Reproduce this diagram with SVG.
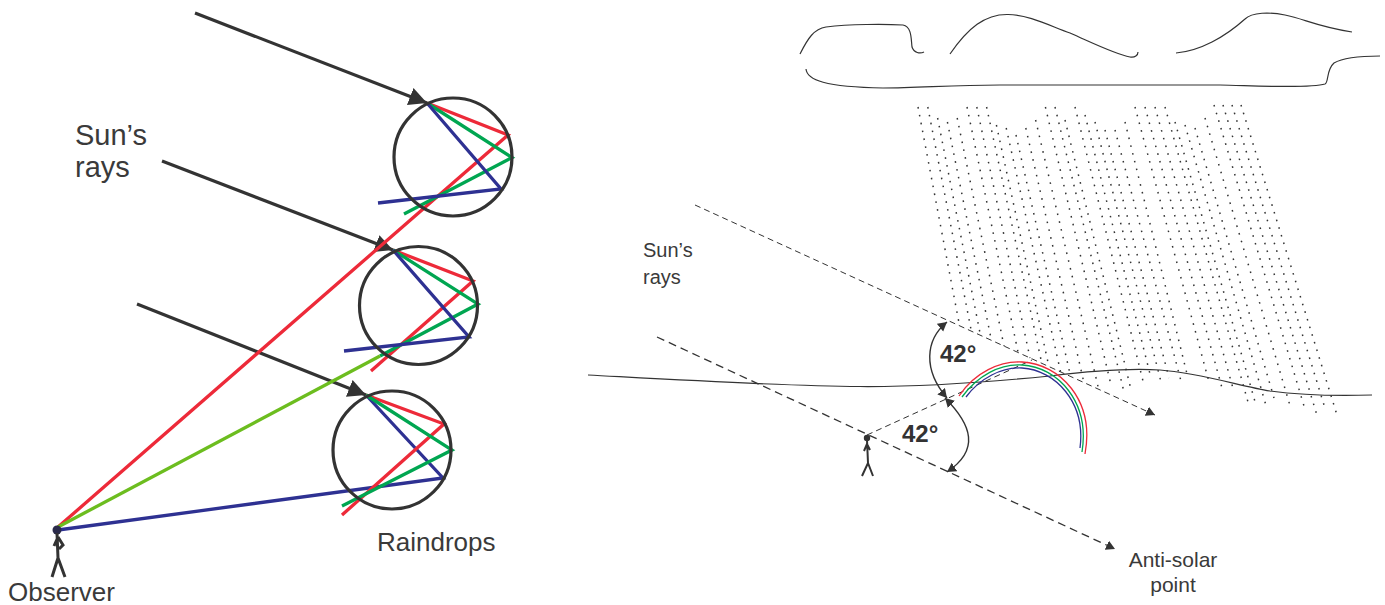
<svg xmlns="http://www.w3.org/2000/svg" width="1385" height="605" viewBox="0 0 1385 605">
<style>
text{font-family:"Liberation Sans",Arial,sans-serif;fill:#3a3a3a}
.l{font-size:29px}
.r{font-size:20px}
.deg{font-size:24px;font-weight:bold;fill:#333}
.drop{fill:none;stroke:#333;stroke-width:3.2}
.ray{stroke:#333;stroke-width:3.2;fill:none;marker-end:url(#head)}
.c{fill:none;stroke-width:3.3;stroke-linecap:butt}
.red{stroke:#ed2a39}.grn{stroke:#00a651}.blu{stroke:#2e3192}.lime{stroke:#6cbd1f}
.fig{fill:none;stroke:#333;stroke-width:3}
.thin{fill:none;stroke:#333;stroke-width:1.2}
.dash{fill:none;stroke:#333;stroke-width:1;stroke-dasharray:6 4}
.bow{fill:none;stroke-width:1.3}
.arc{fill:none;stroke:#333;stroke-width:1.4}
</style>
<defs>
<marker id="head" markerUnits="userSpaceOnUse" markerWidth="22" markerHeight="22" refX="18" refY="10" orient="auto"><path d="M0,1 L18,10 L0,19 Z" fill="#333"/></marker>
<marker id="small" markerUnits="userSpaceOnUse" markerWidth="12" markerHeight="12" refX="9" refY="5" orient="auto-start-reverse"><path d="M0,0 L9,5 L0,10 Z" fill="#333"/></marker>
</defs>

<g id="rain">
<path fill="none" stroke="#333" stroke-width="1.5" stroke-dasharray="1.6 6.4" d="M918,107L959.6,326M927.8,107L971.3,331M937.6,118L980.4,335M947.4,122L991.3,340M957.2,118L1004,346M967,107L1018,352M976.8,107L1030,358M986.6,107L1041.7,363M996.4,125L1049,367M1006.2,128L1060.6,372M1016,135L1070.5,376M1025.8,128L1084,383M1035.6,120L1098.6,389M1045.4,107L1111,385M1055,107L1124,392M1065,120L1131.6,392M1075,107L1143,381M1085,115L1151,378M1095,122L1161,382M1105,130L1169,378M1115,130L1182,385M1125,122L1188,378M1135,107L1209,382M1145,107L1222,388M1155,107L1234,392M1165,107L1248,402M1175,122L1256,405M1185,125L1267,409M1195,128L1274,398M1205,118L1291,409M1214,105L1305.5,411M1223,105L1317.5,417M1232,105L1324,405M1241,105L1337,415"/>
</g>

<g id="clouds">
<path class="thin" d="M800,54C808,38 814,29 826,27C850,24 885,24 903,25C912,27 911,39 912,47C914,53 920,54 924,52"/>
<path class="thin" d="M950,54C968,28 985,14 1008,14.500C1030,15 1050,26 1070,33C1095,44 1115,54 1130,57C1135,58 1138,55 1138,52"/>
<path class="thin" d="M1176,53C1200,51 1225,37 1245,19C1252,12 1270,12 1285,15C1305,19 1315,26 1352,32"/>
<path class="thin" d="M806,69C807,80 825,87 883,88C920,88 950,85 1000,85L1220,85C1250,85.500 1310,89 1325,84C1329,82 1326,70 1334,63C1344,57 1360,56 1380,56"/>
</g>

<g id="ground"><path class="thin" d="M588,375C680,380 780,386 860,386.500C930,387 990,382 1050,376C1090,371 1130,368 1160,370C1200,373 1240,386 1270,391C1300,395 1340,396 1372,395"/></g>

<g id="connectors">
<path class="ray" d="M195,13L427,103"/>
<path class="ray" d="M162,161L393,250"/>
<path class="ray" d="M137,304L366,395"/>
<path class="c red" d="M427,103L508,135L58,527"/>
<path class="c grn" d="M427,103L512,157.500L404,214"/>
<path class="c blu" d="M427,103L501,189L378,203"/>
<path class="c red" d="M393,250L473,281L371,371"/>
<path class="c grn" d="M393,250L478,304L380,356"/>
<path class="c lime" d="M380,356L58,527"/>
<path class="c blu" d="M393,250L469,337L344,351"/>
<path class="c blu" d="M366,395L443,478L58,530"/>
<path class="c red" d="M366,395L444,424L342,515"/>
<path class="c grn" d="M366,395L452,450L342,506"/>

<path class="dash" marker-end="url(#small)" d="M695,205L1155,415"/>
<path class="dash" style="stroke-width:1.3;stroke-dasharray:8 5" marker-end="url(#small)" d="M657,337L1115,549"/>
<path class="dash" d="M867,435L1032,360"/>
<path class="arc" marker-start="url(#small)" marker-end="url(#small)" d="M947,322C925,340 923,370 947,398"/>
<path class="arc" marker-start="url(#small)" marker-end="url(#small)" d="M945,398C972,425 980,450 947,472"/>
</g>

<g id="rainbow">
<path class="bow red" d="M959,396C975,372 1000,361 1022,362C1060,364 1095,400 1085,454"/>
<path class="bow grn" d="M962,397C978,375 1000,364 1022,365C1058,367 1090,402 1082,452"/>
<path class="bow blu" d="M966,397C980,378 1002,367 1022,368C1055,370 1086,402 1080,448"/>
</g>

<g id="drop-1"><circle class="drop" cx="453" cy="157" r="59"/></g>
<g id="drop-2"><circle class="drop" cx="418.500" cy="305.500" r="59"/></g>
<g id="drop-3"><circle class="drop" cx="392" cy="450" r="59"/></g>

<g id="observer">
<circle cx="57" cy="530" r="4.500" fill="#2a2a4a"/>
<path class="fig" d="M57,533L58,558M52,577L58,558L65,577M58,537L63,545L59,549M58,537L54,546"/>
</g>
<g id="observer-small">
<circle cx="867" cy="438" r="3.200" fill="#333"/>
<path class="fig" style="stroke-width:2" d="M867,440L868,463M862,476L868,463L873,476M867,444L870,450M867,444L864,451"/>
</g>

<g id="labels">
<text class="l" x="75" y="145">Sun’s</text>
<text class="l" x="75" y="177">rays</text>
<text x="377" y="551" style="font-size:26px">Raindrops</text>
<text x="8" y="601" style="font-size:26px">Observer</text>
<text class="r" x="643" y="257">Sun’s</text>
<text class="r" x="643" y="284">rays</text>
<text class="deg" x="940" y="362">42°</text>
<text class="deg" x="902" y="442">42°</text>
<text x="1173" y="567" text-anchor="middle" style="font-size:21px">Anti-solar</text>
<text x="1173" y="592" text-anchor="middle" style="font-size:21px">point</text>
</g>
</svg>
